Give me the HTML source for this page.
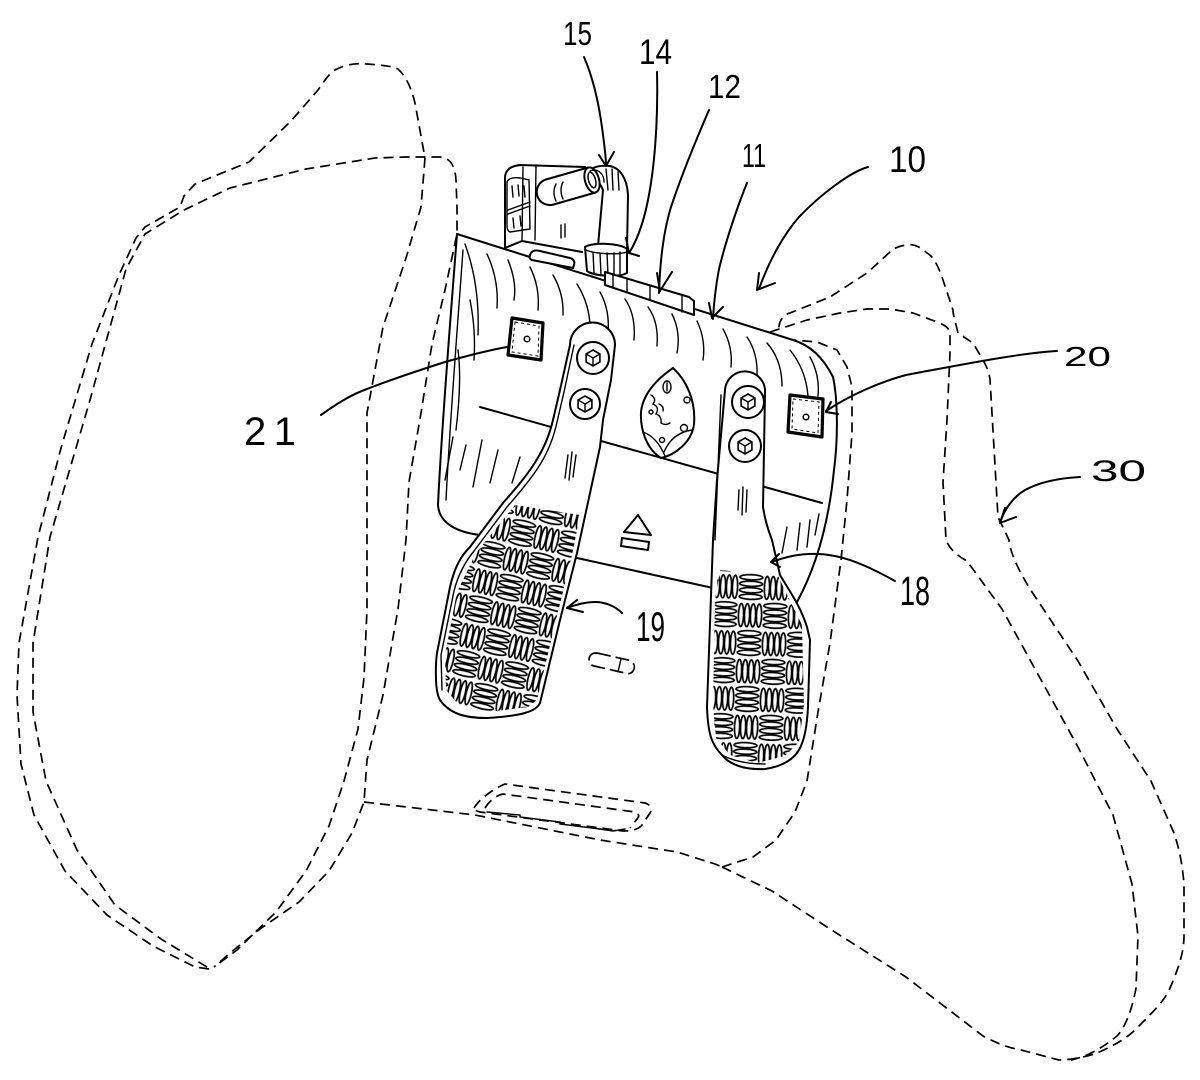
<!DOCTYPE html>
<html><head><meta charset="utf-8"><style>
html,body{margin:0;padding:0;background:#fff;}
svg{display:block;}
.d{fill:none;stroke:#000;stroke-width:1.7;stroke-dasharray:10 6;stroke-linejoin:round;stroke-linecap:butt;}
.s{fill:none;stroke:#000;stroke-width:2;stroke-linejoin:round;stroke-linecap:round;}
.t{fill:none;stroke:#000;stroke-width:1.4;stroke-linecap:round;}
.w{fill:#fff;stroke:#000;stroke-width:2;stroke-linejoin:round;}
.lb{font-family:"Liberation Sans","DejaVu Sans",sans-serif;fill:#000;}
</style></head><body>
<svg width="1200" height="1080" viewBox="0 0 1200 1080" xmlns="http://www.w3.org/2000/svg">
<defs>
<pattern id="tx1" width="50" height="56" patternUnits="userSpaceOnUse" patternTransform="translate(440,500) rotate(13)">
<rect width="50" height="56" fill="#fff"/>
<g fill="#fff" stroke="#000" stroke-width="1.7">
<ellipse cx="3.5" cy="14" rx="2.6" ry="11.5"/><ellipse cx="9.5" cy="14" rx="2.6" ry="11.5"/><ellipse cx="15.5" cy="14" rx="2.6" ry="11.5"/><ellipse cx="21.5" cy="14" rx="2.6" ry="11.5"/>
<ellipse cx="37.5" cy="4" rx="11.5" ry="2.6"/><ellipse cx="37.5" cy="10.5" rx="11.5" ry="2.6"/><ellipse cx="37.5" cy="17" rx="11.5" ry="2.6"/><ellipse cx="37.5" cy="23.5" rx="11.5" ry="2.6"/>
<ellipse cx="12.5" cy="32" rx="11.5" ry="2.6"/><ellipse cx="12.5" cy="38.5" rx="11.5" ry="2.6"/><ellipse cx="12.5" cy="45" rx="11.5" ry="2.6"/><ellipse cx="12.5" cy="51.5" rx="11.5" ry="2.6"/>
<ellipse cx="28.5" cy="42" rx="2.6" ry="11.5"/><ellipse cx="34.5" cy="42" rx="2.6" ry="11.5"/><ellipse cx="40.5" cy="42" rx="2.6" ry="11.5"/><ellipse cx="46.5" cy="42" rx="2.6" ry="11.5"/>
</g></pattern>
<pattern id="tx2" width="50" height="56" patternUnits="userSpaceOnUse" patternTransform="translate(714,572) rotate(2)">
<rect width="50" height="56" fill="#fff"/>
<g fill="#fff" stroke="#000" stroke-width="1.7">
<ellipse cx="3.5" cy="14" rx="2.6" ry="11.5"/><ellipse cx="9.5" cy="14" rx="2.6" ry="11.5"/><ellipse cx="15.5" cy="14" rx="2.6" ry="11.5"/><ellipse cx="21.5" cy="14" rx="2.6" ry="11.5"/>
<ellipse cx="37.5" cy="4" rx="11.5" ry="2.6"/><ellipse cx="37.5" cy="10.5" rx="11.5" ry="2.6"/><ellipse cx="37.5" cy="17" rx="11.5" ry="2.6"/><ellipse cx="37.5" cy="23.5" rx="11.5" ry="2.6"/>
<ellipse cx="12.5" cy="32" rx="11.5" ry="2.6"/><ellipse cx="12.5" cy="38.5" rx="11.5" ry="2.6"/><ellipse cx="12.5" cy="45" rx="11.5" ry="2.6"/><ellipse cx="12.5" cy="51.5" rx="11.5" ry="2.6"/>
<ellipse cx="28.5" cy="42" rx="2.6" ry="11.5"/><ellipse cx="34.5" cy="42" rx="2.6" ry="11.5"/><ellipse cx="40.5" cy="42" rx="2.6" ry="11.5"/><ellipse cx="46.5" cy="42" rx="2.6" ry="11.5"/>
</g></pattern>
<g id="hex">
<polygon points="0,-8 6.9,-4 6.9,4 0,8 -6.9,4 -6.9,-4" fill="none" stroke="#000" stroke-width="1.6"/>
<path d="M0,0 L-6.9,-4 M0,0 L6.9,-4 M0,0 L0,8" stroke="#000" stroke-width="1.4" fill="none"/>
</g>
</defs>

<!-- controller (dashed) -->
<path class="d" d="M209,969 L195,967 L153,946 L107,915 L65,871 L34,815 L21,764 L17,695 L19,643 L38,537 L61,448 L92,344 L119,275 L136,238 L145,227 L180,207 L184,196 L195,184 L249,162 L291,121 L318,90 C325,80 330,72 337,69 C347,64 357,63 367,64 C380,65 392,66 398,69 C410,80 415,100 417,114 L425,158 L421,207 L406,258 L383,327 L367,413 L367,537 L367,609 L364,678 L358,729 L344,781 L329,826 L306,871 L276,912 L237,950 L214,967"/>
<path class="d" d="M207,967 L161,939 L115,905 L77,850 L46,781 L33,712 L33,643 L50,537 L90,400 L126,269 L145,234 L184,210 L230,188 L306,169 L375,158 L406,157 L440,157 C450,158 455,165 456,180 L457,207 L457,234 L445,290 L432,344 L421,413 L409,482 L406,540 L398,609 L383,695 L367,760 L364,802 L352,833 L329,871 L299,902 L260,929 L230,953 L214,967"/>
<path class="d" d="M364,802 L475,815 L600,840 L677,852 L715,864 L722,867"/>
<path class="d" d="M722,867 L753,857 L776,840 L795,812 L807,781 L818,712 L830,643 L841,560 L847,500 L852,433 L852,387 L847,367 L837,350 L817,342 L793,340"/>
<path class="d" d="M722,867 L772,891 L830,929 L906,977 L983,1036 C1000,1045 1010,1048 1021,1050 L1059,1060 C1070,1060 1090,1056 1097,1053 C1120,1043 1130,1035 1136,1029 C1155,1010 1165,1000 1170,988 C1180,965 1184,950 1184,936 L1184,884 C1182,860 1178,845 1174,833 L1151,781 L1117,729 L1078,661 L1032,592 C1015,565 1010,550 1009,540 L998,517 L994,448 L990,379 C988,368 985,364 983,360 L973,343 L958,333 C955,320 953,315 953,310 L943,280 C938,265 933,256 927,253 C918,245 912,244 907,245 C898,246 893,249 890,252 L867,273 L830,297 L790,313 C785,314 782,318 780,322 L778,330"/>
<path class="d" d="M770,332 L807,320 L840,313 L867,309 L890,309 L913,313 L937,322 C945,325 950,328 950,335 L950,353 L947,420 L943,482 L946,540 C950,550 958,556 967,561 L1002,609 L1040,678 L1078,747 L1113,815 L1132,884 L1138,936 L1136,988 C1132,1010 1125,1028 1117,1036 C1100,1050 1085,1057 1071,1060"/>
<!-- slot -->
<path class="d" d="M474,808 C480,798 495,788 505,784 L645,803 C652,805 652,810 650,813 L642,825 C638,830 630,831 623,831 L480,812 C476,811 474,810 474,808 Z"/>
<path class="d" d="M485,808 C490,800 497,795 503,794 L635,812 C640,814 639,817 637,819 L630,828"/>
<path class="t" d="M487,812 L520,815 L520,817 L560,822 L560,824 L600,829 L613,831 L625,829"/>
<!-- pill -->
<path class="d" style="stroke-dasharray:14 5" d="M597,653 L628,660 C634,661 636,667 633,671 C631,674 628,674 625,673 L594,666 C589,665 588,659 590,656 C592,653 594,653 597,653 Z"/>
<path class="t" d="M621,659 L618,672"/>

<!-- device -->
<path fill="#fff" stroke="none" d="M457,234 L793,340 C810,345 823,357 833,377 C838,400 838,440 834,470 C830,510 820,560 797,602 L713,588 L577,558 L480,535 C455,532 440,525 438,505 C442,420 452,300 457,234 Z"/>
<path class="s" d="M457,234 L793,340 C810,345 823,357 833,377 C838,400 838,440 834,470 C830,510 820,560 797,602"/>
<path class="s" d="M457,234 C452,300 442,420 438,505 C439,522 455,532 480,535"/>
<path class="t" d="M463,250 C458,320 450,420 446,500"/>
<path class="s" d="M480,407 L822,503"/>
<path class="s" d="M577,558 L713,588"/>
<!-- ribs -->
<g class="t">
<path d="M465,244 Q480,285 478,335"/>
<path d="M487,254 Q499,280 497,308"/>
<path d="M508,260 Q517,282 514,300"/>
<path d="M530,267 Q540,287 538,310"/>
<path d="M553,275 Q564,294 563,315"/>
<path d="M577,284 Q590,305 590,328"/>
<path d="M600,292 Q610,310 608,333"/>
<path d="M625,299 Q636,315 634,340"/>
<path d="M648,307 Q659,322 657,346"/>
<path d="M672,314 Q681,332 677,353"/>
<path d="M697,321 Q706,340 703,360"/>
<path d="M723,329 Q733,347 731,367"/>
<path d="M747,337 Q758,353 757,376"/>
<path d="M767,343 Q782,360 782,386"/>
<path d="M790,350 Q806,370 808,396"/>
<path d="M810,357 Q820,375 818,396"/>
<path d="M470,300 Q476,330 474,360"/>
<path d="M458,350 Q462,380 456,430"/>
<path d="M453,437 L445,480"/><path d="M482,440 L473,487"/><path d="M498,450 L490,483"/><path d="M520,457 L512,483"/><path d="M466,445 L460,470"/>
<path d="M787,527 L782,553"/><path d="M800,523 L797,550"/><path d="M810,520 L807,547"/><path d="M819,514 L815,535"/>
</g>
<!-- squares -->
<path d="M512,318 L543,323 L541,360 L508,355 Z" fill="none" stroke="#000" stroke-width="3.2" stroke-linejoin="round"/>
<path d="M515,322 L539,326 L538,356 L512,352 Z" fill="none" stroke="#000" stroke-width="1" stroke-dasharray="3 3"/>
<circle cx="527" cy="339" r="2.8" fill="none" stroke="#000" stroke-width="1.5"/>
<path d="M790,395 L823,399 L822,437 L788,432 Z" fill="none" stroke="#000" stroke-width="3.2" stroke-linejoin="round"/>
<path d="M793,399 L819,402 L818,433 L792,429 Z" fill="none" stroke="#000" stroke-width="1" stroke-dasharray="3 3"/>
<circle cx="806" cy="417" r="2.8" fill="none" stroke="#000" stroke-width="1.5"/>
<!-- emblem -->
<path class="s" d="M673,368 C686,380 696,400 694,424 C692,442 675,455 661,458 C648,450 640,432 641,412 C643,393 657,379 673,368 Z"/>
<g class="t">
<ellipse cx="667" cy="387" rx="4" ry="6"/>
<path d="M667,383 L667,391"/>
<path d="M651,395 q6,4 2,9 q7,3 3,10 q6,2 5,9 q4,3 9,0"/>
<path d="M659,404 q5,2 4,7"/>
<circle cx="687" cy="400" r="3"/>
<circle cx="684" cy="428" r="3.5"/>
<circle cx="662" cy="440" r="2.5"/>
<circle cx="651" cy="412" r="2"/>
<path d="M643,432 Q657,437 665,456"/>
<path d="M692,430 Q672,433 664,452"/>
</g>
<!-- eject -->
<path d="M638,515 L651,535 L624,532 Z" fill="none" stroke="#000" stroke-width="2" stroke-linejoin="round"/>
<path d="M622,538 L649,542 L648,550 L621,546 Z" fill="none" stroke="#000" stroke-width="2" stroke-linejoin="round"/>

<!-- bracket -->
<path class="s" d="M505,248 L505,178 C505,170 511,166 520,165 L585,167"/>
<path class="s" d="M505,248 L522,241 L582,252"/>
<path class="t" d="M523,167 L522,241 M536,165 L535,240"/>
<path class="t" d="M507,183 C507,179 512,177 520,178 L529,180 L530,229 L510,232 C508,231 507,229 507,226 Z"/>
<path class="t" d="M512,186 L513,197 M518,185 L519,196 M524,186 L525,197 M508,210 L530,202 M508,214 L530,206 M513,218 L514,228 M520,216 L521,226 M561,225 L561,238 M565,224 L565,237"/>
<path class="w" d="M531,253 C533,250 536,250 540,251 L570,258 C574,259 575,262 574,265 L573,268 L532,260 C529,259 529,256 531,253 Z"/>
<path class="w" d="M598,246 L603,190 C600,182 592,175 585,175 C590,167 600,165 610,166 C620,168 627,178 628,195 L627,250 Z"/>
<path class="t" d="M606,169 L608,190 M612,169 L613,190 M618,172 L619,190"/>
<path class="w" d="M588,167.5 L546,179.5 A13,13 0 0 0 553.6,204.5 L595.6,192.5 Z"/>
<ellipse cx="592" cy="180" rx="13" ry="7" transform="rotate(74 592 180)" fill="#fff" stroke="#000" stroke-width="2"/>
<ellipse cx="592" cy="180" rx="8" ry="3.5" transform="rotate(74 592 180)" fill="none" stroke="#000" stroke-width="1.5"/>
<path class="t" d="M556,184 Q552,192 556,201 M563,182 Q559,190 563,199 M590,171 C597,168 604,173 604,182"/>
<path class="w" d="M585,247 C592,242 620,243 627,249 L627,273 C618,278 594,276 587,271 Z"/>
<path class="t" d="M586,250 C595,254 618,255 627,252 M593,252 L594,273 M600,253 L601,275 M607,253 L608,275 M614,253 L614,275 M620,252 L620,274"/>
<path class="w" d="M605,272 L689,297 L694,301 L694,315 L605,285 Z"/>
<path class="t" d="M613,275 L613,288 M627,279 L627,292 M650,286 L650,300 M682,295 L682,312"/>

<!-- pedal 19 -->
<path class="w" stroke-width="2.4" d="M570,345 A22.5,22.5 0 0 1 615,345 L611,380 L603,420 L600,447 L577,553 L560,620 L540,703 C536,712 520,716 487,718 C465,718 450,714 440,700 C434,690 436,660 437,653 L450,587 C455,565 462,555 470,547 L503,503 C525,478 545,455 553,420 L560,390 Z"/>
<path class="t" d="M574,345 L564,392 L557,422 C550,455 535,475 507,507 L474,551 C465,562 458,575 454,591 L441,655 L442,690"/>
<path d="M515,505 L580,515 L572,555 L556,620 L537,700 L528,707 L488,712 L458,704 L446,690 L445,655 L457,592 L476,553 Z" fill="url(#tx1)" stroke="none"/>
<circle cx="593" cy="358" r="16" fill="#fff" stroke="#000" stroke-width="2"/>
<circle cx="585" cy="404" r="15" fill="#fff" stroke="#000" stroke-width="2"/>
<use href="#hex" x="593" y="358"/>
<use href="#hex" x="585" y="404"/>
<path class="t" d="M568,455 L565,478 M572,452 L569,480 M576,455 L573,477"/>

<!-- pedal 18 -->
<path class="w" stroke-width="2.4" d="M725,390 A20,20 0 0 1 765,393 L763,507 C765,520 768,530 772,540 L780,575 C790,592 800,605 807,627 L810,640 L808,707 C807,725 805,738 800,748 C795,758 785,766 765,769 C745,770 730,765 722,755 C712,745 708,735 707,707 L713,540 L717,480 Z"/>
<path class="t" d="M721,395 L715,540 M718,580 L715,725 M722,755 C735,762 750,764 765,764"/>
<path d="M720,570 L778,576 L802,625 L804,705 L799,742 L785,756 L757,763 L730,755 L716,738 L713,705 L715,600 Z" fill="url(#tx2)" stroke="none"/>
<circle cx="748" cy="402" r="16" fill="#fff" stroke="#000" stroke-width="2"/>
<circle cx="745" cy="446" r="16" fill="#fff" stroke="#000" stroke-width="2"/>
<use href="#hex" x="748" y="402"/>
<use href="#hex" x="745" y="446"/>
<path class="t" d="M739,490 L738,510 M743,487 L742,515 M747,490 L746,512"/>

<!-- leaders -->
<g class="s">
<path d="M584,57 C594,80 600,110 603,135 C605,150 606,158 606,165"/>
<path d="M599,155 L606,166 L614,152"/>
<path d="M657,72 C658,110 656,160 648,200 C643,225 636,242 629,253"/>
<path d="M626,238 L629,253 L639,256"/>
<path d="M709,110 C696,140 680,180 671,207 C664,230 660,260 659,293"/>
<path d="M657,273 L660,291 L672,272"/>
<path d="M747,183 C738,205 726,240 719,269 C716,285 714,300 713,319"/>
<path d="M709,303 L712,318 L723,307"/>
<path d="M868,167 C850,172 820,195 799,217 C785,233 770,258 759,289"/>
<path d="M759,273 L757,290 L775,283"/>
<path d="M1057,351 C1020,353 960,365 906,375 C880,382 850,395 826,411"/>
<path d="M831,402 L826,412 L838,414"/>
<path d="M1080,477 C1060,478 1040,482 1025,490 C1013,497 1004,510 1000,523"/>
<path d="M1005,508 L1000,523 L1016,517"/>
<path d="M321,415 C335,405 350,395 367,389 C390,380 420,370 445,362 C470,355 490,350 507,347"/>
<path d="M622,613 C615,606 605,602 595,602 C585,602 575,605 567,608"/>
<path d="M577,600 L567,608 L583,612"/>
<path d="M895,581 C875,570 855,560 835,556 C815,552 795,553 772,562"/>
<path d="M779,554 L771,562 L780,567"/>
</g>

<!-- labels -->
<text class="lb" x="563" y="45" font-size="33" textLength="29" lengthAdjust="spacingAndGlyphs">15</text>
<text class="lb" x="639" y="64" font-size="35" textLength="33" lengthAdjust="spacingAndGlyphs">14</text>
<text class="lb" x="708" y="98" font-size="33" textLength="33" lengthAdjust="spacingAndGlyphs">12</text>
<text class="lb" x="742" y="167" font-size="33" textLength="24" lengthAdjust="spacingAndGlyphs">11</text>
<text class="lb" x="889" y="172" font-size="37" textLength="37" lengthAdjust="spacingAndGlyphs">10</text>
<text class="lb" x="1064" y="366" font-size="28" textLength="47" lengthAdjust="spacingAndGlyphs">20</text>
<text class="lb" x="1091" y="481" font-size="30" textLength="55" lengthAdjust="spacingAndGlyphs">30</text>
<text class="lb" x="244" y="445" font-size="40" textLength="52" lengthAdjust="spacing">21</text>
<text class="lb" x="900" y="605" font-size="41" textLength="30" lengthAdjust="spacingAndGlyphs">18</text>
<text class="lb" x="636" y="641" font-size="42" textLength="29" lengthAdjust="spacingAndGlyphs">19</text>
</svg>
</body></html>
